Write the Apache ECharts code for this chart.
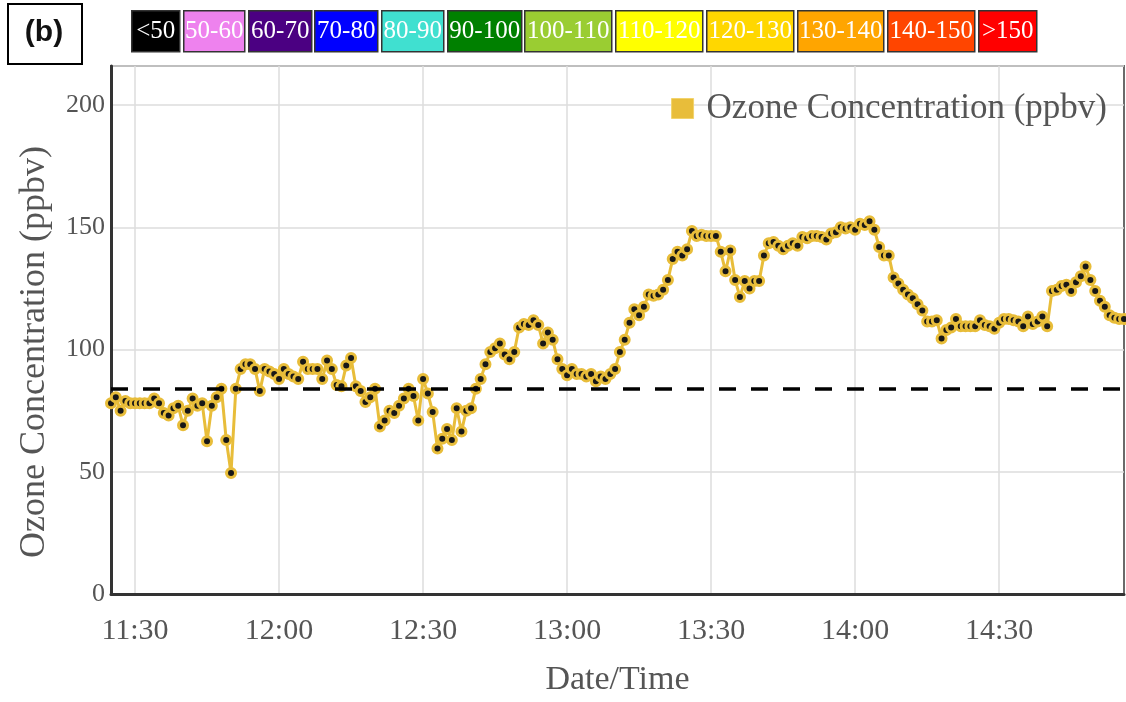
<!DOCTYPE html>
<html>
<head>
<meta charset="utf-8">
<script src="https://cdn.jsdelivr.net/npm/echarts@6/dist/echarts.min.js"></script>
<style>
  html, body { margin: 0; padding: 0; background: #ffffff; }
  #chart { width: 1126px; height: 702px; }
</style>
</head>
<body>
<div id="chart"></div>
<script>
// One-minute ozone readings, 11:25 - 14:56
const times = [
  '11:25','11:26','11:27','11:28','11:29','11:30','11:31','11:32','11:33','11:34',
  '11:35','11:36','11:37','11:38','11:39','11:40','11:41','11:42','11:43','11:44',
  '11:45','11:46','11:47','11:48','11:49','11:50','11:51','11:52','11:53','11:54',
  '11:55','11:56','11:57','11:58','11:59',
  '12:00','12:01','12:02','12:03','12:04','12:05','12:06','12:07','12:08','12:09',
  '12:10','12:11','12:12','12:13','12:14','12:15','12:16','12:17','12:18','12:19',
  '12:20','12:21','12:22','12:23','12:24','12:25','12:26','12:27','12:28','12:29',
  '12:30','12:31','12:32','12:33','12:34','12:35','12:36','12:37','12:38','12:39',
  '12:40','12:41','12:42','12:43','12:44','12:45','12:46','12:47','12:48','12:49',
  '12:50','12:51','12:52','12:53','12:54','12:55','12:56','12:57','12:58','12:59',
  '13:00','13:01','13:02','13:03','13:04','13:05','13:06','13:07','13:08','13:09',
  '13:10','13:11','13:12','13:13','13:14','13:15','13:16','13:17','13:18','13:19',
  '13:20','13:21','13:22','13:23','13:24','13:25','13:26','13:27','13:28','13:29',
  '13:30','13:31','13:32','13:33','13:34','13:35','13:36','13:37','13:38','13:39',
  '13:40','13:41','13:42','13:43','13:44','13:45','13:46','13:47','13:48','13:49',
  '13:50','13:51','13:52','13:53','13:54','13:55','13:56','13:57','13:58','13:59',
  '14:00','14:01','14:02','14:03','14:04','14:05','14:06','14:07','14:08','14:09',
  '14:10','14:11','14:12','14:13','14:14','14:15','14:16','14:17','14:18','14:19',
  '14:20','14:21','14:22','14:23','14:24','14:25','14:26','14:27','14:28','14:29',
  '14:30','14:31','14:32','14:33','14:34','14:35','14:36','14:37','14:38','14:39',
  '14:40','14:41','14:42','14:43','14:44','14:45','14:46','14:47','14:48','14:49',
  '14:50','14:51','14:52','14:53','14:54','14:55','14:56'
];

// Ozone concentration (ppbv), one value per entry of `times`
const ozone = [
  78, 80.5, 75, 79, 78, 78, 78, 78, 78, 80,
  78, 74, 73, 76, 77, 69, 75, 80, 77, 78,
  62.5, 77, 80.5, 84, 63, 49.5, 84, 92, 94, 94,
  92, 83, 92, 91, 90,
  88, 92, 90, 89, 88, 95, 92, 92, 92, 88,
  95.5, 92, 85.5, 85, 93.5, 96.5, 85, 83, 78.5, 80.5,
  84, 68.5, 71, 75, 74, 77, 80, 84, 81, 71,
  88, 82, 74.5, 59.5, 63.5, 67.5, 63, 76, 66.5, 75,
  76, 84, 88, 94, 99, 100.5, 102.5, 98, 96, 99,
  109, 110.5, 110, 112, 110, 102.5, 107, 104, 96, 92,
  89.5, 92, 90, 90, 89, 90, 87, 89, 88, 90,
  92, 99, 104, 111, 116.5, 114, 117.5, 122.5, 122, 122.5,
  124.5, 128.5, 137, 140, 138.5, 141, 148.5, 146.5, 147, 146.5,
  146.5, 146.5, 140, 132, 140.5, 128.5, 121.5, 128, 125, 128,
  128, 138.5, 143.5, 144, 142.5, 141, 142.5, 143.5, 142.5, 146,
  145.5, 146.5, 146.5, 146, 145, 147.5, 148, 150, 149.5, 150,
  149, 151.5, 151, 152.5, 149, 142, 138.5, 138.5, 129.5, 127,
  124.5, 122.5, 121, 118.5, 116, 111.5, 111.5, 112, 104.5, 108,
  109, 112.5, 109.5, 109.5, 109.5, 109.5, 112, 110, 109.5, 108.5,
  111, 112.5, 112.5, 112, 111.5, 109.5, 113.5, 110.5, 111.5, 113.5,
  109.5, 124, 124.5, 126, 126.5, 124, 127.5, 130, 134, 128.5,
  124, 120, 117.5, 114, 113, 112.5, 112.5
];

// Labelled times on the x axis
const xTickLabels = ['11:30', '12:00', '12:30', '13:00', '13:30', '14:00', '14:30'];

// Reference level drawn as the dashed line (ppbv)
const STANDARD_PPBV = 84;

const SERIES_NAME = 'Ozone Concentration (ppbv)';

// Colour key for concentration bands
const bandLabels = ['<50', '50-60', '60-70', '70-80', '80-90', '90-100',
  '100-110', '110-120', '120-130', '130-140', '140-150', '>150'];
const bandColors = ['#000000', '#ee82ee', '#4b0082', '#0000ff', '#40e0d0', '#008000',
  '#9acd32', '#ffff00', '#ffd700', '#ffa500', '#ff4500', '#ff0000'];

// Key box layout (left edge and width, px)
const keyBoxLeft = [131, 183, 248, 314, 381, 447, 524, 615, 706, 797, 887, 978];
const keyBoxWidth = [48, 61, 63, 63, 62, 74, 87, 87, 87, 86, 87, 58];

const GOLD = '#e8bd3a';
const SERIF = '"Liberation Serif", "DejaVu Serif", serif';

const isTickTime = (index, value) => xTickLabels.indexOf(value) !== -1;

const keyElements = bandLabels.map((label, i) => ({
  type: 'group',
  left: keyBoxLeft[i],
  top: 10,
  children: [
    {
      type: 'rect',
      shape: { x: 0, y: 0, width: keyBoxWidth[i], height: 41 },
      style: { fill: bandColors[i], stroke: '#333333', lineWidth: 1.5 }
    },
    {
      type: 'text',
      x: keyBoxWidth[i] / 2,
      y: 21,
      style: {
        text: label,
        fill: '#ffffff',
        font: '25px ' + SERIF,
        align: 'center',
        verticalAlign: 'middle'
      }
    }
  ]
}));

const chart = echarts.init(document.getElementById('chart'), null, { renderer: 'canvas' });

chart.setOption({
  animation: false,
  backgroundColor: '#ffffff',
  grid: {
    left: 111,
    right: 2,
    top: 66,
    bottom: 95,
    show: true,
    borderColor: '#6a6a6a',
    borderWidth: 2,
    containLabel: false
  },
  legend: {
    data: [SERIES_NAME],
    right: 14,
    top: 86,
    icon: 'rect',
    itemWidth: 22,
    itemHeight: 20,
    itemGap: 10,
    itemStyle: { color: GOLD, borderColor: '#f2d36c', borderWidth: 1 },
    textStyle: { fontFamily: SERIF, fontSize: 35, color: '#555555', padding: [0, 0, 0, 8] }
  },
  xAxis: {
    type: 'category',
    data: times,
    boundaryGap: false,
    name: 'Date/Time',
    nameLocation: 'middle',
    nameGap: 69,
    nameTextStyle: { fontFamily: SERIF, fontSize: 34, color: '#555555' },
    axisLine: { lineStyle: { color: '#333333', width: 3 } },
    axisTick: { show: false },
    axisLabel: {
      interval: isTickTime,
      margin: 22,
      fontFamily: SERIF,
      fontSize: 30,
      color: '#555555'
    },
    splitLine: {
      show: true,
      interval: isTickTime,
      lineStyle: { color: '#dddddd', width: 1.5 }
    }
  },
  yAxis: {
    type: 'value',
    min: 0,
    max: 216,
    interval: 50,
    name: 'Ozone Concentration (ppbv)',
    nameLocation: 'middle',
    nameGap: 58,
    nameTextStyle: { fontFamily: SERIF, fontSize: 36, color: '#555555', padding: [0, 44, 0, 0] },
    axisLine: { show: true, lineStyle: { color: '#333333', width: 3 } },
    axisTick: { show: false },
    axisLabel: {
      showMaxLabel: false,
      margin: 6,
      fontFamily: SERIF,
      fontSize: 26,
      color: '#555555'
    },
    splitLine: { show: true, lineStyle: { color: '#dddddd', width: 1.5 } }
  },
  series: [
    {
      name: SERIES_NAME,
      type: 'line',
      data: ozone,
      showSymbol: true,
      showAllSymbol: true,
      symbol: 'circle',
      symbolSize: 9,
      lineStyle: { color: GOLD, width: 3 },
      itemStyle: { color: '#171717', borderColor: GOLD, borderWidth: 3 },
      emphasis: { disabled: true },
      markLine: {
        silent: true,
        symbol: ['none', 'none'],
        label: { show: false },
        lineStyle: { color: '#000000', type: [17, 15], width: 3.5 },
        data: [{ yAxis: STANDARD_PPBV }]
      }
    }
  ],
  graphic: [
    {
      type: 'rect',
      left: 7,
      top: 3,
      shape: { x: 0, y: 0, width: 74, height: 60 },
      style: { fill: '#ffffff', stroke: '#000000', lineWidth: 2 }
    },
    {
      type: 'text',
      x: 44,
      y: 33,
      style: {
        text: '(b)',
        fill: '#111111',
        font: 'bold 30px "Liberation Sans", Arial, sans-serif',
        align: 'center',
        verticalAlign: 'middle'
      }
    }
  ].concat(keyElements)
});
</script>
</body>
</html>
